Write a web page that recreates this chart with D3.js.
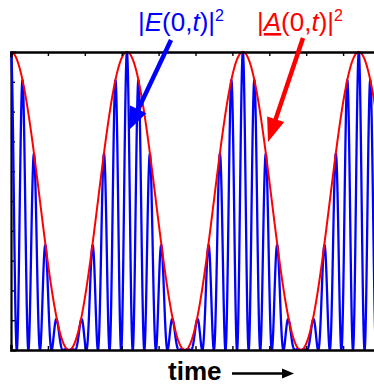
<!DOCTYPE html>
<html>
<head>
<meta charset="utf-8">
<script src="https://cdn.jsdelivr.net/npm/d3@7"></script>
<style>
  html, body { margin: 0; padding: 0; background: #fff; }
  svg { display: block; }
</style>
</head>
<body>
<svg id="chart" width="374" height="385"></svg>
<script>
// ---- data (analytic illustration; parameters) ----
const timeDomain = [0, 10];                 // time units shown on the axis
const xTickValues = [1, 2, 3, 4, 5, 6, 7, 8, 9];
const yTickValues = [0.1, 0.2, 0.3, 0.4, 0.5, 0.6, 0.7, 0.8, 0.9];
const envelopePeriod = [Math.PI];           // |A|^2 = cos^2(t): peaks at 0, π, 2π, 3π
const carrierLobesPerPeriod = [10];         // fast oscillation lobes per envelope period
const labels = ["time"];

const svg = d3.select("#chart");
const margin = { left: 11, top: 52, bottom: 350, right: 380 };

const x = d3.scaleLinear().domain(timeDomain).range([margin.left, margin.right]);
const y = d3.scaleLinear().domain([0, 1]).range([margin.bottom, margin.top]);

const samples = d3.range(timeDomain[0], timeDomain[1] + 0.0005, 0.004);
const w = Math.PI / envelopePeriod[0];
const k = carrierLobesPerPeriod[0] * w;
const envelope = samples.map(t => ({ t, v: Math.pow(Math.cos(w * t), 2) }));
const field = samples.map(t => ({ t, v: Math.pow(Math.cos(w * t), 2) * Math.pow(Math.cos(k * t), 2) }));

const line = d3.line().x(d => x(d.t)).y(d => y(d.v));

// axes (frame with inward ticks)
const topAxis = d3.axisTop(x).tickValues(xTickValues).tickSize(-4).tickFormat("");
const botAxis = d3.axisBottom(x).tickValues(xTickValues).tickSize(-4).tickFormat("");
const leftAxis = d3.axisLeft(y).tickValues(yTickValues).tickSize(-4).tickFormat("");

function styleAxis(g, sw) {
  g.select(".domain").attr("stroke", "#000").attr("stroke-width", sw).attr("stroke-linecap", "square");
  g.selectAll(".tick line").attr("stroke", "#000").attr("stroke-width", 1.4);
}
svg.append("g").attr("transform", `translate(${margin.left},0)`).call(leftAxis).call(g => styleAxis(g, 2.2));

svg.append("defs").append("clipPath").attr("id", "clip")
  .append("rect").attr("x", margin.left - 1.5).attr("y", margin.top - 3)
  .attr("width", margin.right - margin.left + 2).attr("height", margin.bottom - margin.top + 3);

const plot = svg.append("g").attr("clip-path", "url(#clip)");

// blue fast oscillation
plot.append("path").datum(field)
  .attr("d", line).attr("fill", "none")
  .attr("stroke", "#0000ff").attr("stroke-width", 2.3).attr("stroke-linejoin", "round");

// red envelope
plot.append("path").datum(envelope)
  .attr("d", line).attr("fill", "none")
  .attr("stroke", "#ff0000").attr("stroke-width", 2);

svg.append("g").attr("transform", `translate(0,${margin.top})`).call(topAxis).call(g => styleAxis(g, 2.6));
svg.append("g").attr("transform", `translate(0,${margin.bottom})`).call(botAxis).call(g => styleAxis(g, 2.6));

// ---- labels ----
const font = "'Liberation Sans', Arial, sans-serif";
function fieldLabel(xPos, color, letter, underline) {
  const t = svg.append("text").attr("x", xPos).attr("y", 31)
    .attr("font-family", font).attr("font-size", 26).attr("fill", color);
  t.append("tspan").text("|");
  const L = t.append("tspan").attr("font-style", "italic").text(letter);
  if (underline) L.attr("text-decoration", "underline");
  t.append("tspan").text("(0,");
  t.append("tspan").attr("font-style", "italic").text("t");
  t.append("tspan").text(")|");
  t.append("tspan").attr("font-size", 16).attr("dy", -10).text("2");
  return t;
}
fieldLabel(138, "#0000ff", "E", false);
fieldLabel(257, "#ff0000", "A", true);

// arrows
function arrow(x1, y1, x2, y2, color, width, headLen, headHalf) {
  const dx = x2 - x1, dy = y2 - y1, L = Math.hypot(dx, dy);
  const ux = dx / L, uy = dy / L;
  const bx = x2 - ux * headLen, by = y2 - uy * headLen;
  svg.append("line").attr("x1", x1).attr("y1", y1).attr("x2", bx + ux * 2).attr("y2", by + uy * 2)
    .attr("stroke", color).attr("stroke-width", width);
  svg.append("path")
    .attr("d", `M${x2},${y2} L${bx - uy * headHalf},${by + ux * headHalf} L${bx + uy * headHalf},${by - ux * headHalf} Z`)
    .attr("fill", color);
}
arrow(171, 40, 128, 131, "#0000ff", 4.5, 24, 9);
arrow(303, 38, 268, 142, "#ff0000", 4.5, 24, 9);

// time label
svg.append("text").attr("x", 168).attr("y", 380)
  .attr("font-family", font).attr("font-size", 26).attr("font-weight", "bold")
  .attr("fill", "#000").text(labels[0]);
arrow(232, 373.5, 294, 373.5, "#000", 2.4, 12, 5);
</script>
</body>
</html>
